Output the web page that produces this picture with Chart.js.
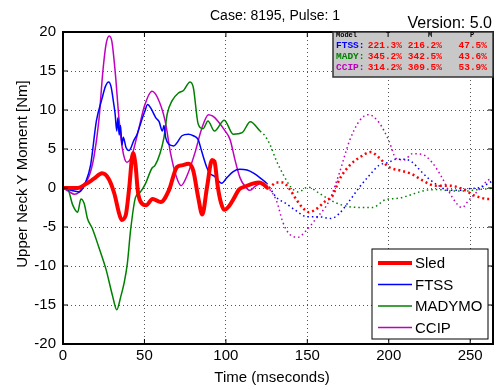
<!DOCTYPE html>
<html>
<head>
<meta charset="utf-8">
<script src="https://cdn.jsdelivr.net/npm/chart.js@4.4.0/dist/chart.umd.min.js"></script>
<style>
html, body { margin: 0; padding: 0; background: #fff; }
</style>
</head>
<body>
<canvas id="momentChart" width="497" height="390"></canvas>
<script>
// values (time in ms, moment in Nm)
const sledTime = [0, 5, 9, 14, 19, 24, 28, 31.5, 34.5, 36, 38.5, 40.5, 43, 44.5, 46, 48.5, 51, 55, 60, 65,
    70, 73, 77, 80, 83, 85.5, 88.5, 91.5, 93, 95, 97, 99, 102, 105, 108, 112, 117, 120.5, 123.5, 126,
    131, 135, 139, 143, 147, 151, 155.5, 161.5, 165.5, 169.5, 176, 182, 189, 194, 200, 208, 214, 220.5, 228.5, 237,
    245, 253, 261, 264];
const sledMoment = [0, 0, 0, 0.5, 1.2, 1.9, 1.2, -0.7, -3.3, -4.1, -3.5, -0.3, 4.5, 3.0, -0.5, -2.0, -2.2, -1.4, -1.8, -0.3,
    2.7, 2.9, 3.1, 2.2, -1.2, -3.4, 0.2, 3.6, 3.4, 0.2, -1.9, -2.8, -2.3, -1.3, -0.2, 0.2, 0.6, 0.7, 0.4, 0,
    0.7, 0.7, -0.1, -1.4, -2.5, -3.1, -2.7, -1.6, -1.0, 1.0, 2.9, 3.9, 4.6, 3.9, 2.7, 2.2, 1.8, 1.0, 0.3, 0.3,
    -0.1, -1.0, -1.4, -1.4];

const ftssTime = [0, 5, 10, 14, 17, 20.5, 24, 26, 28, 29.5, 31, 32, 33, 33.7, 34.5, 35.3, 36.2, 37, 38.7, 40.5,
    43.5, 45.5, 48, 50, 52, 54, 57, 59, 61, 62, 63, 65, 68, 70, 73, 77, 80, 83, 85, 88,
    90, 93, 95, 97.5, 100.5, 104.5, 108.5, 113, 117, 121, 125, 131, 137, 143, 150, 157.5, 164.5, 169.5, 176, 182,
    188, 194, 200, 204.5, 209.5, 214.5, 219.5, 224.5, 230.5, 237, 243, 249, 257, 262, 264];
const ftssMoment = [0, -0.3, -0.5, 0.8, 3, 8.6, 11.5, 13, 13.6, 13, 11, 9.5, 7.3, 9, 6.8, 8, 5.5, 6.5, 5.2, 4.8,
    6.1, 6.9, 8.5, 9.7, 10.7, 10.2, 9.0, 8.5, 7.3, 8, 6.5, 5.6, 5.4, 5.8, 6.7, 6.9, 6.7, 6.2, 4.8, 2.8,
    1.9, 1.5, 1.0, 0.6, 1.3, 2.1, 2.4, 2.3, 1.9, 1.3, 0.6, -1.2, -2.0, -2.9, -3.7, -3.7, -3.9, -3.3, -1.6, 0.1,
    1.6, 2.9, 3.3, 3.7, 3.7, 3.3, 2.2, 1.2, 0.3, -0.3, -0.3, -0.1, 0.1, 0.7, 0.9];

const madyTime = [0, 3, 6, 9, 11, 13, 15, 18, 22, 26.5, 30.5, 33, 35.5, 37.5, 39.5, 41.5, 44.5, 47.5, 50.5, 54.5,
    56.5, 59.5, 62, 64, 67, 71, 74, 78, 80, 83, 86, 89, 93, 99, 104.5, 110, 115, 121, 124, 127,
    131, 135, 140, 144.5, 150.5, 157.5, 164.5, 171.5, 182, 190, 198, 206.5, 214.5, 222.5, 230.5, 239, 247, 255, 261, 264];
const madyMoment = [0, -0.2, -2.2, -3.1, -1.4, -2.0, -3.9, -5.2, -7.6, -10.5, -13.9, -15.6, -13.9, -12.2, -9.7, -5.4, -1.2, -0.5, 0.5, 2.5,
    2.9, 4.4, 6.5, 9.5, 11.2, 12.2, 12.5, 13.6, 12.9, 8.2, 7.6, 8.6, 7.3, 8.7, 6.9, 7.1, 8.5, 7.3, 6.7, 5.6,
    3.5, 1.8, 0.1, -0.5, 0.1, -0.7, -1.6, -2.2, -2.5, -2.5, -1.5, -1.3, -0.8, -0.3, -0.2, -0.4, -0.4, -0.2, -0.1, 0];

const ccipTime = [0, 4, 7, 10, 13, 16, 19, 22, 24.5, 26.5, 28.4, 30, 32, 34.5, 36.5, 39.2, 42, 46.4, 50, 54.6,
    58, 62.7, 66, 69.5, 72.5, 76, 81, 85, 89.3, 92, 95, 99.6, 102.6, 105.6, 108.7, 111.8, 114.8, 117.9, 122, 125,
    131, 135, 139, 144.5, 149.5, 155.5, 163.5, 169.5, 176, 182, 187.5, 194, 200, 204.5, 209.5, 214.5, 220.5, 226.5, 232.5, 239,
    245, 249, 255, 261, 264];
const ccipMoment = [0, -0.5, -0.8, -0.5, 0.5, 1.5, 4, 8.6, 15, 18.5, 19.5, 18.8, 15, 8.6, 5, 3.3, 4, 7.5, 10.5, 12.4,
    11.6, 8.6, 4.5, 1.5, 0.3, 1.5, 4.5, 7.5, 9.4, 9.2, 8.6, 7.3, 6.2, 3.6, 1.3, 0.2, -0.3, 0.2, 0.6, 0.2,
    -1.6, -4.4, -5.9, -6.3, -5.4, -3.9, -1.6, 1.8, 6.1, 8.6, 9.4, 8.4, 6.1, 3.8, 3.6, 4.4, 4.3, 3.3, 1.4, -1.2,
    -2.5, -1.6, -0.3, 1.0, 1.2];

const seriesNames = ['Sled', 'FTSS', 'MADYMO', 'CCIP'];
const solidUntil = [126, 125, 121, 125]; // traces go dotted after this time

const xTicks = [0, 50, 100, 150, 200, 250];
const yTicks = [-20, -15, -10, -5, 0, 5, 10, 15, 20];

const tableModels = ['FTSS:', 'MADY:', 'CCIP:'];
const tableT = [221.3, 345.2, 314.2];
const tableM = [216.2, 342.5, 309.5];
const tableP = [47.5, 43.6, 53.9];

const RED = '#ff0000', BLUE = '#0000ff', GREEN = '#008000', MAG = '#bf00bf';
const SANS = '"Liberation Sans", Arial, Helvetica, sans-serif';
const MONO = '"Liberation Mono", "Courier New", monospace';

function makeSet(name, t, y, color, width, dotWidth, dash, cut) {
    return {
        label: name,
        data: t.map((v, i) => ({ x: v, y: y[i] })),
        borderColor: color,
        backgroundColor: color,
        borderWidth: width,
        pointRadius: 0,
        cubicInterpolationMode: 'monotone',
        segment: {
            borderDash: ctx => ctx.p0.parsed.x >= cut ? dash : undefined,
            borderWidth: ctx => ctx.p0.parsed.x >= cut ? dotWidth : undefined
        }
    };
}

const datasets = [
    makeSet(seriesNames[0], sledTime, sledMoment, RED, 4, 2.5, [2, 3], solidUntil[0]),
    makeSet(seriesNames[1], ftssTime, ftssMoment, BLUE, 1.5, 1.5, [1.5, 3], solidUntil[1]),
    makeSet(seriesNames[2], madyTime, madyMoment, GREEN, 1.5, 1.5, [1.5, 3], solidUntil[2]),
    makeSet(seriesNames[3], ccipTime, ccipMoment, MAG, 1.5, 1.5, [1.5, 3], solidUntil[3])
];

function line(ctx, x1, y1, x2, y2) {
    ctx.beginPath();
    ctx.moveTo(x1, y1);
    ctx.lineTo(x2, y2);
    ctx.stroke();
}

// axes box with inward ticks, like the matlab figure
const framePlugin = {
    id: 'frame',
    afterDatasetsDraw(chart) {
        const { ctx, chartArea: a, scales: { x, y } } = chart;
        ctx.save();
        ctx.strokeStyle = '#000';
        ctx.lineWidth = 1;
        xTicks.forEach(v => {
            const px = x.getPixelForValue(v);
            line(ctx, px, a.bottom, px, a.bottom - 5);
            line(ctx, px, a.top, px, a.top + 5);
        });
        yTicks.forEach(v => {
            const py = y.getPixelForValue(v);
            line(ctx, a.left, py, a.left + 5, py);
            line(ctx, a.right, py, a.right - 5, py);
        });
        ctx.lineWidth = 2;
        ctx.strokeRect(a.left, a.top, a.right - a.left, a.bottom - a.top);
        ctx.restore();
    },
    afterDraw(chart) {
        const { ctx, chartArea: a } = chart;
        ctx.save();
        ctx.fillStyle = '#000';
        ctx.textBaseline = 'alphabetic';

        ctx.font = '14px ' + SANS;
        ctx.textAlign = 'center';
        ctx.fillText('Case: 8195, Pulse: 1', 275, 20);
        ctx.font = '16px ' + SANS;
        ctx.textAlign = 'right';
        ctx.fillText('Version: 5.0', 492, 28);

        ctx.font = '15px ' + SANS;
        ctx.textAlign = 'center';
        ctx.fillText('Time (mseconds)', 272, 382);
        ctx.save();
        ctx.translate(27, 174);
        ctx.rotate(-Math.PI / 2);
        ctx.fillText('Upper Neck Y Moment [Nm]', 0, 0);
        ctx.restore();

        // error table, top right
        const tx = 333, ty = a.top, tw = a.right - tx, th = 45;
        ctx.fillStyle = '#c8c8c8';
        ctx.fillRect(tx, ty, tw, th);
        ctx.strokeStyle = '#333';
        ctx.lineWidth = 1.5;
        ctx.strokeRect(tx, ty, tw, th);
        ctx.fillStyle = '#000';
        ctx.font = 'bold 7px ' + MONO;
        ctx.textAlign = 'left';
        ctx.fillText('Model', 336, 37);
        ctx.textAlign = 'center';
        ctx.fillText('T', 388, 37);
        ctx.fillText('M', 430, 37);
        ctx.fillText('P', 472, 37);
        const labelColors = [BLUE, GREEN, MAG];
        ctx.font = 'bold 9.5px ' + MONO;
        tableModels.forEach((m, i) => {
            const by = 48 + i * 10.8;
            ctx.textAlign = 'left';
            ctx.fillStyle = labelColors[i];
            ctx.fillText(m, 336, by);
            ctx.fillStyle = RED;
            ctx.textAlign = 'right';
            ctx.fillText(tableT[i].toFixed(1) + '%', 402, by);
            ctx.fillText(tableM[i].toFixed(1) + '%', 442, by);
            ctx.fillText(tableP[i].toFixed(1) + '%', 487, by);
        });

        // legend, bottom right
        const lx = 372, ly = 249, lw = 116, lh = 90;
        ctx.fillStyle = '#fff';
        ctx.fillRect(lx, ly, lw, lh);
        ctx.strokeStyle = '#000';
        ctx.lineWidth = 1;
        ctx.strokeRect(lx, ly, lw, lh);
        ctx.font = '15px ' + SANS;
        ctx.textAlign = 'left';
        ctx.textBaseline = 'middle';
        datasets.forEach((ds, i) => {
            const ry = 263 + i * 21.5;
            ctx.strokeStyle = ds.borderColor;
            ctx.lineWidth = ds.borderWidth;
            line(ctx, 378, ry, 412, ry);
            ctx.fillStyle = '#000';
            ctx.fillText(ds.label, 415, ry + 1);
        });
        ctx.restore();
    }
};

const ctx = document.getElementById('momentChart').getContext('2d');
const chart = new Chart(ctx, {
    type: 'line',
    data: { datasets },
    options: {
        responsive: false,
        animation: false,
        devicePixelRatio: 1,
        layout: { padding: { left: 0, top: 32, right: 4, bottom: 0 } },
        plugins: { legend: { display: false }, tooltip: { enabled: false }, title: { display: false } },
        scales: {
            x: {
                type: 'linear',
                min: 0,
                max: 264,
                afterBuildTicks: s => { s.ticks = xTicks.map(v => ({ value: v })); },
                afterFit: s => { s.height = 46; },
                ticks: { color: '#000', font: { family: SANS, size: 15 }, padding: 3, maxRotation: 0, autoSkip: false },
                grid: { color: '#555', lineWidth: 1, drawTicks: false },
                border: { display: false, dash: [1, 3] }
            },
            y: {
                type: 'linear',
                min: -20,
                max: 20,
                afterBuildTicks: s => { s.ticks = yTicks.map(v => ({ value: v })); },
                afterFit: s => { s.width = 63; },
                ticks: { color: '#000', font: { family: SANS, size: 15 }, padding: 7, autoSkip: false },
                grid: { color: '#555', lineWidth: 1, drawTicks: false },
                border: { display: false, dash: [1, 3] }
            }
        }
    },
    plugins: [framePlugin]
});
</script>
</body>
</html>
